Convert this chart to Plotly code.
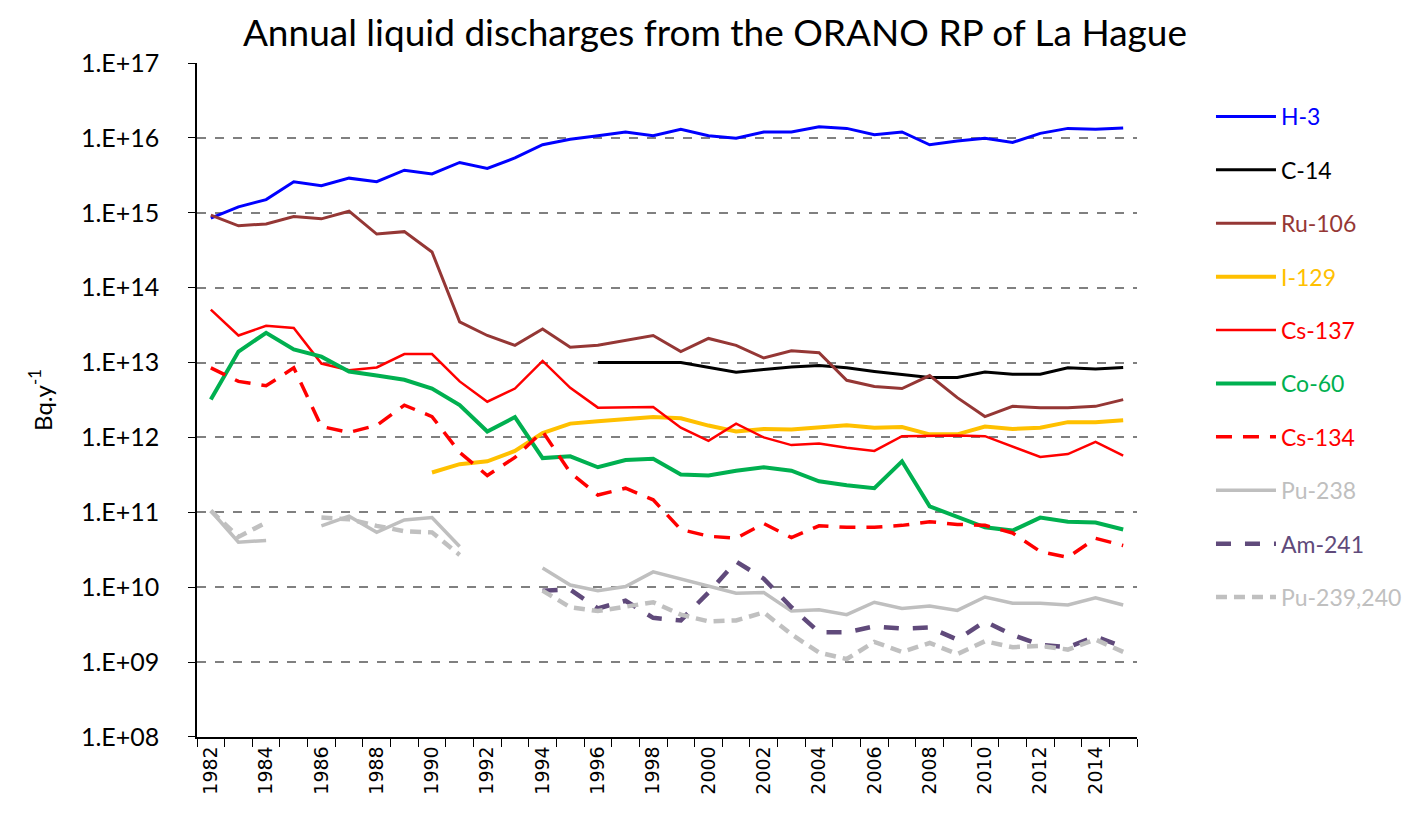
import plotly.graph_objects as go

years = list(range(1982, 2016))

H3 = [8.5e14, 1.2e15, 1.5e15, 2.6e15, 2.3e15, 2.9e15, 2.6e15, 3.7e15, 3.3e15, 4.7e15,
      3.9e15, 5.4e15, 8.1e15, 9.6e15, 1.07e16, 1.2e16, 1.07e16, 1.3e16,
      1.07e16, 9.9e15, 1.2e16, 1.2e16, 1.41e16, 1.34e16, 1.1e16, 1.2e16, 8.1e15, 9.1e15,
      9.9e15, 8.7e15, 1.15e16, 1.34e16, 1.3e16, 1.36e16]
C14 = [None] * 14 + [1.0e13, 9.9e12, 1.0e13, 1.0e13, 8.7e12, 7.4e12, 8.1e12, 8.7e12, 9.1e12,
                     8.5e12, 7.6e12, 7.0e12, 6.3e12, 6.3e12, 7.5e12, 7.0e12, 7.0e12, 8.5e12,
                     8.2e12, 8.6e12]
Ru106 = [9.3e14, 6.7e14, 7.1e14, 8.9e14, 8.3e14, 1.05e15, 5.2e14, 5.6e14, 3.0e14, 3.5e13,
         2.3e13, 1.7e13, 2.8e13, 1.6e13, 1.7e13, 2.0e13, 2.3e13, 1.4e13,
         2.1e13, 1.7e13, 1.15e13, 1.44e13, 1.35e13, 5.8e12, 4.8e12, 4.5e12, 6.7e12, 3.4e12,
         1.9e12, 2.6e12, 2.5e12, 2.5e12, 2.6e12, 3.2e12]
I129 = [None] * 8 + [3.4e11, 4.4e11, 4.8e11, 6.6e11, 1.14e12, 1.53e12, 1.65e12, 1.73e12, 1.87e12,
                     1.8e12, 1.44e12, 1.2e12, 1.3e12, 1.28e12, 1.38e12, 1.45e12, 1.35e12,
                     1.38e12, 1.1e12, 1.1e12, 1.4e12, 1.3e12, 1.35e12, 1.6e12, 1.6e12, 1.7e12]
Cs137 = [5.1e13, 2.3e13, 3.1e13, 2.9e13, 9.7e12, 7.9e12, 8.6e12, 1.3e13, 1.3e13, 5.6e12,
         3.0e12, 4.5e12, 1.05e13, 4.6e12, 2.5e12, 2.55e12, 2.55e12,
         1.35e12, 9.0e11, 1.53e12, 1.0e12, 7.9e11, 8.3e11, 7.3e11, 6.6e11, 1.04e12, 1.05e12,
         1.06e12, 1.04e12, 7.6e11, 5.5e11, 6.0e11, 8.7e11, 5.7e11]
Co60 = [3.2e12, 1.4e13, 2.5e13, 1.5e13, 1.2e13, 7.6e12, 6.7e12, 5.9e12, 4.5e12, 2.7e12,
        1.2e12, 1.87e12, 5.3e11, 5.6e11, 4.0e11, 5.0e11, 5.2e11,
        3.2e11, 3.1e11, 3.6e11, 4.0e11, 3.6e11, 2.6e11, 2.3e11, 2.1e11, 4.8e11, 1.2e11,
        8.7e10, 6.3e10, 5.7e10, 8.5e10, 7.5e10, 7.3e10, 5.9e10]
Cs134 = [8.5e12, 5.6e12, 4.9e12, 8.5e12, 1.4e12, 1.17e12, 1.45e12, 2.7e12, 1.9e12, 6.3e11,
         3.1e11, 5.4e11, 1.2e12, 3.4e11, 1.7e11, 2.1e11, 1.47e11,
         5.9e10, 4.8e10, 4.5e10, 7.1e10, 4.6e10, 6.6e10, 6.3e10, 6.3e10, 6.7e10, 7.5e10,
         6.9e10, 6.7e10, 5.3e10, 3.0e10, 2.5e10, 4.5e10, 3.6e10]
Pu238 = [1.05e11, 4.0e10, 4.2e10, None, 6.6e10, 8.9e10, 5.4e10, 7.9e10, 8.5e10, 3.5e10,
         None, None, 1.8e10, 1.07e10, 9.0e9, 1.02e10, 1.6e10,
         1.28e10, 1.02e10, 8.3e9, 8.5e9, 4.8e9, 5.0e9, 4.3e9, 6.3e9, 5.2e9, 5.6e9,
         4.9e9, 7.4e9, 6.1e9, 6.1e9, 5.8e9, 7.2e9, 5.8e9]
Am241 = [None] * 12 + [9.0e9, 9.3e9, 5.2e9, 6.6e9, 3.9e9, 3.6e9, 8.5e9, 2.2e10, 1.3e10, 5.4e9,
                       2.5e9, 2.5e9, 3.0e9, 2.8e9, 2.9e9, 2.0e9, 3.5e9, 2.3e9, 1.7e9, 1.58e9,
                       2.2e9, 1.6e9]
Pu239 = [1.05e11, 4.7e10, 7.3e10, None, 8.5e10, 8.1e10, 6.6e10, 5.6e10, 5.4e10, 2.7e10,
         None, None, 9.0e9, 5.4e9, 4.8e9, 5.5e9, 6.3e9,
         4.3e9, 3.5e9, 3.6e9, 4.6e9, 2.35e9, 1.34e9, 1.1e9, 1.86e9, 1.37e9, 1.8e9,
         1.28e9, 1.9e9, 1.58e9, 1.65e9, 1.47e9, 2.0e9, 1.37e9]

series = [
    ("H-3", H3, "#0000FF", 3, "solid"),
    ("C-14", C14, "#000000", 3, "solid"),
    ("Ru-106", Ru106, "#953735", 3, "solid"),
    ("I-129", I129, "#FFC000", 4, "solid"),
    ("Cs-137", Cs137, "#FF0000", 2.5, "solid"),
    ("Co-60", Co60, "#00B050", 4, "solid"),
    ("Cs-134", Cs134, "#FF0000", 3.5, "16px,11px"),
    ("Pu-238", Pu238, "#BFBFBF", 3.5, "solid"),
    ("Am-241", Am241, "#604A7B", 4.5, "15px,14px"),
    ("Pu-239,240", Pu239, "#C0C0C0", 4.5, "11px,7px"),
]

ytick_vals = [1e8, 1e9, 1e10, 1e11, 1e12, 1e13, 1e14, 1e15, 1e16, 1e17]
ytick_text = ["1.E+08", "1.E+09", "1.E+10", "1.E+11", "1.E+12", "1.E+13",
              "1.E+14", "1.E+15", "1.E+16", "1.E+17"]
xtick_vals = list(range(1982, 2016, 2))

fig = go.Figure()
for name, vals, color, width, dash in series:
    fig.add_trace(go.Scatter(
        x=years, y=vals, mode="lines", connectgaps=False,
        name=f"<span style='color:{color}'>{name}</span>",
        legendgroup=name,
        line=dict(color=color, width=width, dash=dash),
    ))

fig.update_layout(
    width=1411, height=813,
    paper_bgcolor="white", plot_bgcolor="white",
    margin=dict(l=189, r=282, t=55, b=84, autoexpand=False),
    title=dict(text="Annual liquid discharges from the ORANO RP of La Hague",
               x=0.501, xanchor="center", y=0.9692, yanchor="middle",
               font=dict(family="Lato, Open Sans, sans-serif", size=37, color="black")),
    font=dict(family="Lato, Open Sans, sans-serif", color="black"),
    showlegend=True,
    legend=dict(x=1.0787, y=0.9525, xanchor="left", yanchor="top",
                font=dict(family="Lato, Open Sans, sans-serif", size=23),
                tracegroupgap=20.5, itemwidth=60, bgcolor="rgba(0,0,0,0)"),
)

fig.update_xaxes(
    type="linear", range=[1981.5, 2015.5], automargin=False,
    tickvals=xtick_vals, ticktext=[str(v) for v in xtick_vals],
    tickangle=-90, ticks="", showgrid=False, zeroline=False,
    showline=True, linecolor="black", linewidth=1.5,
    tickfont=dict(family="DejaVu Sans, sans-serif", size=19, color="black"),
    minor=dict(tick0=1981.5, dtick=1, ticks="outside", ticklen=8,
               tickcolor="black", tickwidth=1, showgrid=False),
)
fig.update_yaxes(
    type="log", range=[7.9999, 17.0001], automargin=False,
    tickvals=ytick_vals, ticktext=ytick_text,
    ticks="outside", ticklen=7, tickcolor="black",
    showline=True, linecolor="black", linewidth=1.5,
    showgrid=True, gridcolor="#808080", gridwidth=2, griddash="dash",
    zeroline=False,
    tickfont=dict(family="Lato, Open Sans, sans-serif", size=25, color="black"),
    ticklabelstandoff=24,
    title=dict(text="Bq.y<sup>-1</sup>", standoff=22,
               font=dict(family="Lato, Open Sans, sans-serif", size=24, color="black")),
)

fig.write_html("out.html")
